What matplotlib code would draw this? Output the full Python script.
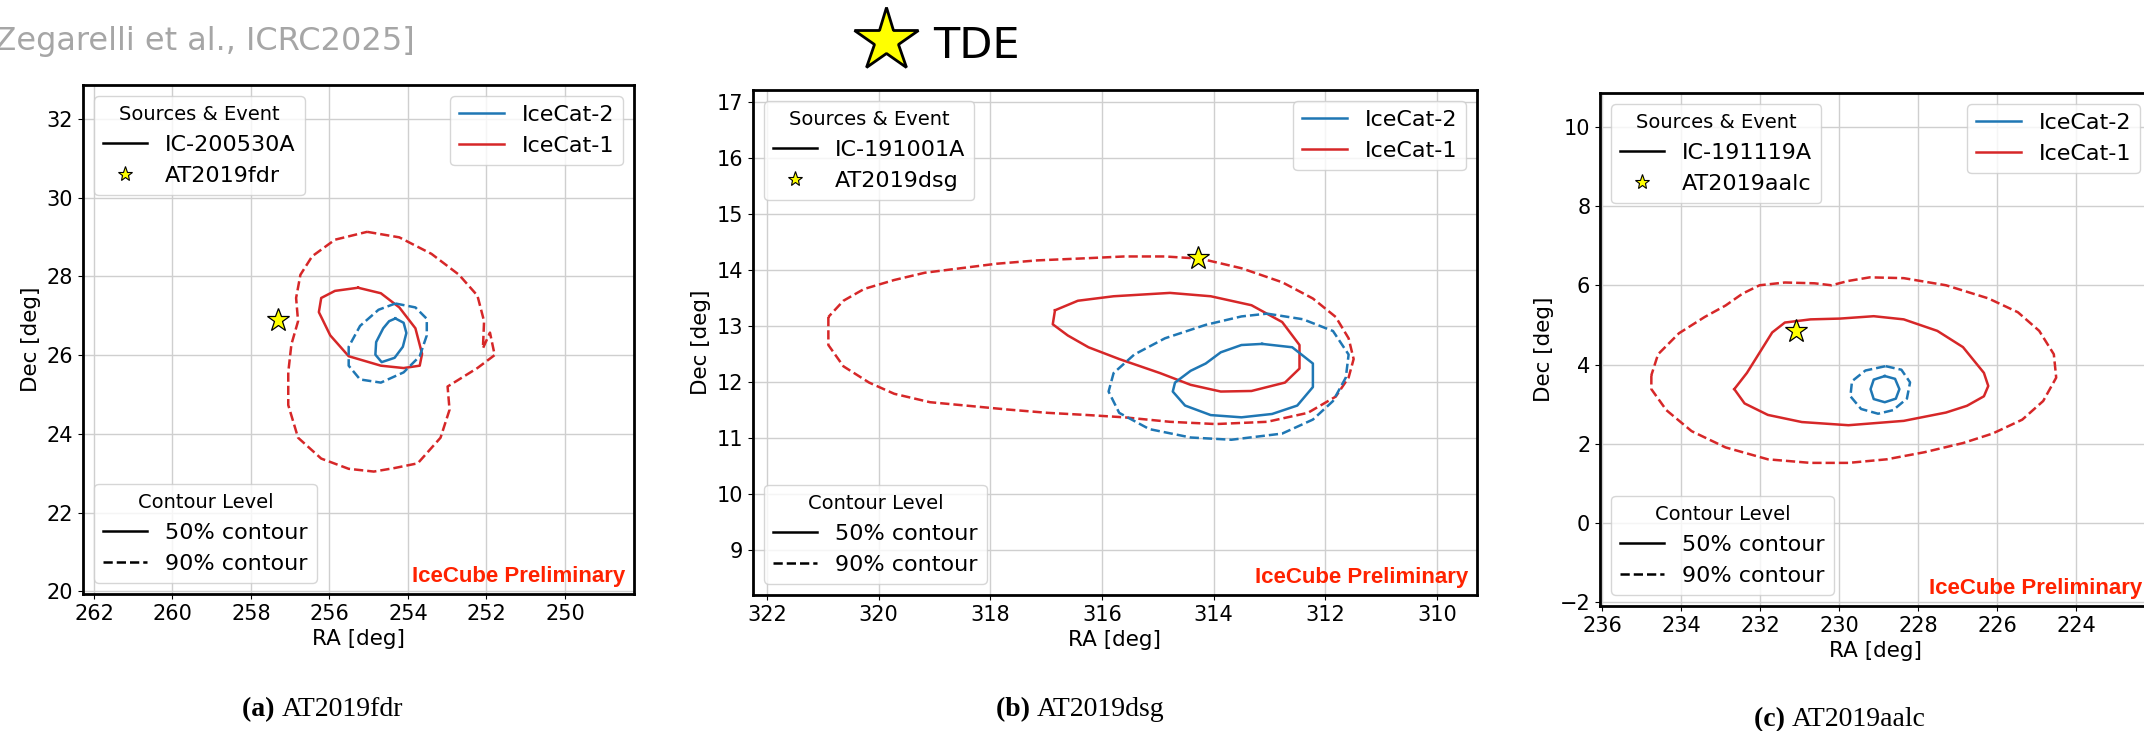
import matplotlib.pyplot as plt
from matplotlib.lines import Line2D
import numpy as np

W, H = 2144, 731

# (a) AT2019fdr / IC-200530A
a_ic1_90_ra = [255.04, 254.22, 253.40, 252.70, 252.23, 252.06, 252.09, 251.91, 251.79, 252.23,
               252.99, 252.94, 253.17, 253.75, 254.34, 254.87, 255.51, 256.21, 256.80, 257.05,
               257.05, 256.97, 256.80, 256.85, 256.74, 256.44, 255.86]
a_ic1_90_dec = [29.13, 28.99, 28.57, 28.04, 27.51, 26.86, 26.17, 26.57, 26.00, 25.67,
                25.20, 24.61, 23.90, 23.25, 23.13, 23.04, 23.11, 23.37, 23.90, 24.73,
                25.56, 26.27, 26.86, 27.45, 28.04, 28.51, 28.93]
a_ic1_50_ra = [255.27, 254.69, 254.22, 253.81, 253.64, 253.70, 254.11, 254.69, 255.51, 255.98,
               256.27, 256.21, 255.86]
a_ic1_50_dec = [27.71, 27.57, 27.21, 26.68, 26.03, 25.73, 25.67, 25.73, 25.97, 26.50,
                27.09, 27.45, 27.63]
a_ic2_90_ra = [254.32, 253.81, 253.52, 253.52, 253.70, 254.11, 254.69, 255.22, 255.51, 255.51,
               255.22, 254.75]
a_ic2_90_dec = [27.31, 27.21, 26.92, 26.50, 25.97, 25.56, 25.30, 25.38, 25.73, 26.21,
                26.74, 27.15]
a_ic2_50_ra = [254.32, 254.11, 254.04, 254.13, 254.34, 254.67, 254.83, 254.81, 254.63, 254.48]
a_ic2_50_dec = [26.93, 26.82, 26.56, 26.21, 25.93, 25.82, 26.01, 26.33, 26.68, 26.86]
a_star = (257.30, 26.88)

# (b) AT2019dsg / IC-191001A
b_ic1_90_ra = [320.90, 320.90, 320.63, 320.17, 319.72, 319.08, 318.44, 317.70, 316.97, 316.24,
               315.60, 314.78, 313.96, 313.04, 312.31, 311.81, 311.58, 311.49, 311.58, 311.81,
               312.22, 312.77, 313.50, 314.23, 314.87, 315.60, 316.24, 317.16, 317.89, 318.53,
               319.17, 319.72, 320.26, 320.63]
b_ic1_90_dec = [13.16, 12.66, 12.28, 11.99, 11.79, 11.64, 11.58, 11.51, 11.45, 11.41,
                11.37, 11.29, 11.25, 11.29, 11.45, 11.74, 12.08, 12.41, 12.78, 13.16,
                13.49, 13.78, 14.03, 14.20, 14.24, 14.24, 14.21, 14.17, 14.11, 14.03,
                13.95, 13.82, 13.66, 13.45]
b_ic1_50_ra = [316.84, 316.43, 315.79, 314.78, 314.05, 313.32, 312.77, 312.46, 312.46, 312.72,
               313.32, 313.87, 314.41, 314.96, 315.69, 316.24, 316.61, 316.88]
b_ic1_50_dec = [13.28, 13.45, 13.53, 13.59, 13.53, 13.37, 13.07, 12.66, 12.24, 11.99,
                11.84, 11.83, 11.95, 12.16, 12.41, 12.62, 12.83, 13.03]
b_ic2_90_ra = [313.04, 312.40, 311.86, 311.58, 311.63, 311.86, 312.22, 312.77, 313.68, 314.41,
               315.15, 315.69, 315.88, 315.79, 315.42, 314.87, 314.14, 313.50]
b_ic2_90_dec = [13.22, 13.12, 12.91, 12.49, 12.08, 11.66, 11.33, 11.08, 10.97, 11.01,
                11.16, 11.45, 11.83, 12.16, 12.49, 12.78, 13.02, 13.17]
b_ic2_50_ra = [313.13, 312.59, 312.22, 312.22, 312.50, 312.95, 313.50, 314.05, 314.51, 314.73,
               314.69, 314.41, 314.14, 313.87, 313.50]
b_ic2_50_dec = [12.68, 12.62, 12.33, 11.91, 11.58, 11.43, 11.37, 11.41, 11.58, 11.83,
                11.99, 12.20, 12.33, 12.53, 12.66]
b_star = (314.28, 14.21)

# (c) AT2019aalc / IC-191119A
c_ic1_90_ra = [234.75, 234.75, 234.37, 233.73, 232.87, 231.80, 230.72, 229.76, 228.79, 227.83,
               226.86, 226.11, 225.36, 224.83, 224.50, 224.56, 224.93, 225.47, 226.22, 227.29,
               228.36, 229.22, 229.76, 230.19, 230.62, 231.37, 232.01, 232.44, 232.87, 233.40,
               234.05, 234.58]
c_ic1_90_dec = [3.73, 3.38, 2.85, 2.32, 1.91, 1.61, 1.52, 1.52, 1.61, 1.79,
                2.02, 2.26, 2.61, 3.08, 3.67, 4.26, 4.85, 5.32, 5.67, 6.00,
                6.18, 6.20, 6.11, 6.00, 6.05, 6.07, 6.00, 5.79, 5.49, 5.20,
                4.79, 4.26]
c_ic1_50_ra = [232.65, 232.33, 231.96, 231.69, 231.37, 230.72, 229.97, 229.12, 228.36, 227.51,
               226.86, 226.33, 226.22, 226.33, 226.76, 227.29, 228.36, 229.76, 230.94, 231.80,
               232.39]
c_ic1_50_dec = [3.38, 3.79, 4.38, 4.81, 5.06, 5.14, 5.16, 5.22, 5.14, 4.85,
                4.44, 3.79, 3.46, 3.20, 2.96, 2.79, 2.58, 2.47, 2.55, 2.73,
                3.02]
c_ic2_90_ra = [228.82, 228.42, 228.20, 228.28, 228.63, 229.01, 229.44, 229.71, 229.67, 229.33]
c_ic2_90_dec = [3.96, 3.87, 3.55, 3.14, 2.85, 2.76, 2.88, 3.20, 3.58, 3.85]
c_ic2_50_ra = [228.84, 228.58, 228.47, 228.56, 228.84, 229.12, 229.20, 229.12]
c_ic2_50_dec = [3.71, 3.64, 3.38, 3.14, 3.05, 3.13, 3.38, 3.62]
c_star = (231.08, 4.85)

events = ['IC-200530A', 'IC-191001A', 'IC-191119A']
sources = ['AT2019fdr', 'AT2019dsg', 'AT2019aalc']
letters = ['(a)', '(b)', '(c)']

BLUE = '#1f77b4'
RED = '#d62728'


def px_axes(fig, left, top, right, bottom):
    return fig.add_axes([left / W, 1 - bottom / H, (right - left) / W, (bottom - top) / H])


def closed(v):
    return np.r_[v, v[:1]]


fig = plt.figure(figsize=(W / 100, H / 100), dpi=100)

panels = [
    dict(box=(83, 85, 634, 594), xlim=(262.28, 248.24), ylim=(19.93, 32.86),
         xt=np.arange(262, 249, -2), yt=np.arange(20, 33, 2),
         c=[(a_ic1_90_ra, a_ic1_90_dec, RED, '--'), (a_ic1_50_ra, a_ic1_50_dec, RED, '-'),
            (a_ic2_90_ra, a_ic2_90_dec, BLUE, '--'), (a_ic2_50_ra, a_ic2_50_dec, BLUE, '-')],
         star=a_star, cap=(323, 716)),
    dict(box=(753, 90, 1477, 595), xlim=(322.25, 309.28), ylim=(8.2, 17.21),
         xt=np.arange(322, 309, -2), yt=np.arange(9, 18, 1),
         c=[(b_ic1_90_ra, b_ic1_90_dec, RED, '--'), (b_ic1_50_ra, b_ic1_50_dec, RED, '-'),
            (b_ic2_90_ra, b_ic2_90_dec, BLUE, '--'), (b_ic2_50_ra, b_ic2_50_dec, BLUE, '-')],
         star=b_star, cap=(1080, 716)),
    dict(box=(1600, 93, 2151, 606), xlim=(236.05, 222.1), ylim=(-2.09, 10.85),
         xt=np.arange(236, 223, -2), yt=np.arange(-2, 11, 2),
         c=[(c_ic1_90_ra, c_ic1_90_dec, RED, '--'), (c_ic1_50_ra, c_ic1_50_dec, RED, '-'),
            (c_ic2_90_ra, c_ic2_90_dec, BLUE, '--'), (c_ic2_50_ra, c_ic2_50_dec, BLUE, '-')],
         star=c_star, cap=(1840, 726)),
]

renderer = fig.canvas.get_renderer()

for i, p in enumerate(panels):
    ax = px_axes(fig, *p['box'])
    for ra, dec, col, ls in p['c']:
        ax.plot(closed(ra), closed(dec), color=col, ls=ls, lw=1.8)
    ax.plot(*p['star'], ls='none', marker='*', ms=17, mfc='yellow', mec='k', mew=0.9, zorder=5)
    ax.set_xlim(*p['xlim'])
    ax.set_ylim(*p['ylim'])
    ax.set_xticks(p['xt'])
    ax.set_yticks(p['yt'])
    ax.grid(True, color='#cfcfcf', lw=1)
    ax.set_axisbelow(True)
    ax.tick_params(labelsize=15)
    for s in ax.spines.values():
        s.set_linewidth(2)
    ax.set_xlabel('RA [deg]', fontsize=15.5)
    ax.set_ylabel('Dec [deg]', fontsize=15.5)

    leg1 = ax.legend(handles=[Line2D([], [], color='k', lw=1.8),
                              Line2D([], [], ls='none', marker='*', ms=11, mfc='yellow', mec='k', mew=0.8)],
                     labels=[events[i], sources[i]], title='Sources & Event', loc='upper left',
                     fontsize=16, title_fontsize=14)
    ax.add_artist(leg1)
    leg2 = ax.legend(handles=[Line2D([], [], color=BLUE, lw=1.8), Line2D([], [], color=RED, lw=1.8)],
                     labels=['IceCat-2', 'IceCat-1'], loc='upper right', fontsize=16)
    ax.add_artist(leg2)
    ax.legend(handles=[Line2D([], [], color='k', lw=1.8), Line2D([], [], color='k', lw=1.8, ls='--')],
              labels=['50% contour', '90% contour'], title='Contour Level', loc='lower left',
              fontsize=16, title_fontsize=14)

    ax.annotate('IceCube Preliminary', xy=(1, 0), xycoords='axes fraction',
                xytext=(-9, 12), textcoords='offset pixels', ha='right', va='baseline',
                color='#ff2200', fontsize=16, fontweight='bold', family='Liberation Sans')

    # sub-caption: bold letter + regular name, centred
    cx, cy = p['cap']
    t1 = fig.text(0, 1 - cy / H, letters[i] + ' ', family='Liberation Serif', fontweight='bold',
                  fontsize=20, va='baseline', ha='left')
    t2 = fig.text(0, 1 - cy / H, sources[i], family='Liberation Serif', fontsize=20,
                  va='baseline', ha='left')
    w1 = t1.get_window_extent(renderer).width
    w2 = t2.get_window_extent(renderer).width
    x0 = cx - (w1 + w2) / 2
    t1.set_x(x0 / W)
    t2.set_x((x0 + w1) / W)

fig.text(415 / W, 1 - 50 / H, '[Zegarelli et al., ICRC2025]', color='#a6a6a6', fontsize=23,
         ha='right', va='baseline')
fig.add_artist(Line2D([886 / W], [1 - 40 / H], ls='none', marker='*', ms=48, mfc='yellow',
                      mec='k', mew=2, transform=fig.transFigure))
fig.text(933 / W, 1 - 58 / H, 'TDE', fontsize=31, ha='left', va='baseline')

fig.savefig('out.png', dpi=100)
